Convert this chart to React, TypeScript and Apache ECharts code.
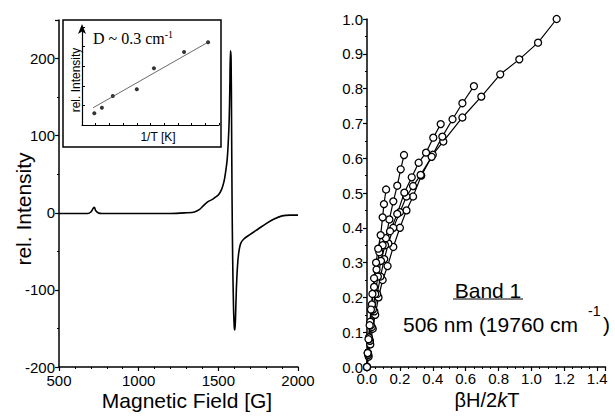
import React, { useEffect, useRef } from "react";
import * as echarts from "echarts";

// Left: EPR spectrum (Magnetic Field [G], rel. Intensity)
const spectrumField = [500, 600, 680, 700, 715, 722, 730, 745, 770, 850, 1000, 1200, 1300, 1350, 1380, 1410, 1440, 1460, 1480, 1500, 1520, 1535, 1545, 1555, 1562, 1568, 1572, 1576, 1580, 1583, 1586, 1590, 1595, 1600, 1604, 1608, 1613, 1620, 1628, 1640, 1660, 1700, 1750, 1800, 1850, 1900, 1950, 2000];
const spectrumIntensity = [-1, -1, -1, 1, 6, 7, 3, 0, -1, -1, -1, -1, 0, 1, 4, 10, 15, 17, 20, 23, 30, 40, 52, 68, 90, 120, 160, 210, 200, 120, 20, -60, -120, -148, -152, -135, -100, -70, -52, -40, -34, -28, -21, -14, -8, -4, -3, -3];

// Inset: rel. Intensity vs 1/T (arbitrary units)
const insetInvT = [0.9, 1.45, 2.25, 4.0, 5.25, 7.45, 9.2];
const insetIntensity = [1.2, 1.75, 2.95, 3.65, 5.8, 7.45, 8.45];
const insetFitX = [0.8, 9.2];
const insetFitY = [1.75, 8.45];

// Right: magnetization curves (βH/2kT, normalized)
const curveAx = [0, 0.01, 0.02, 0.035, 0.05, 0.07, 0.095, 0.125, 0.16, 0.2, 0.24, 0.28, 0.33, 0.4, 0.464, 0.58, 0.695, 0.81, 0.926, 1.04, 1.153];
const curveAy = [0, 0.03, 0.065, 0.11, 0.15, 0.2, 0.25, 0.29, 0.345, 0.4, 0.45, 0.49, 0.55, 0.61, 0.648, 0.717, 0.777, 0.841, 0.884, 0.932, 1.0];
const curveBx = [0, 0.008, 0.018, 0.03, 0.045, 0.062, 0.082, 0.105, 0.13, 0.16, 0.2, 0.24, 0.28, 0.326, 0.393, 0.458, 0.52, 0.58, 0.65];
const curveBy = [0, 0.035, 0.075, 0.115, 0.16, 0.21, 0.26, 0.31, 0.355, 0.4, 0.445, 0.49, 0.52, 0.552, 0.604, 0.662, 0.712, 0.758, 0.807];
const curveCx = [0, 0.006, 0.014, 0.024, 0.036, 0.05, 0.066, 0.085, 0.11, 0.14, 0.184, 0.227, 0.272, 0.314, 0.359, 0.403, 0.448];
const curveCy = [0, 0.04, 0.08, 0.12, 0.165, 0.21, 0.26, 0.305, 0.35, 0.39, 0.44, 0.501, 0.545, 0.587, 0.616, 0.659, 0.698];
const curveDx = [0, 0.005, 0.012, 0.02, 0.03, 0.043, 0.058, 0.075, 0.095, 0.115, 0.136, 0.16, 0.184, 0.205, 0.225];
const curveDy = [0, 0.04, 0.085, 0.13, 0.18, 0.23, 0.28, 0.33, 0.35, 0.37, 0.424, 0.476, 0.521, 0.568, 0.609];
const curveEx = [0, 0.004, 0.009, 0.016, 0.024, 0.033, 0.043, 0.055, 0.068, 0.083, 0.095, 0.103, 0.116];
const curveEy = [0, 0.04, 0.08, 0.12, 0.165, 0.21, 0.255, 0.3, 0.34, 0.379, 0.43, 0.468, 0.51];

const leftYTicks = { min: -200, max: 250, interval: 100 };
const rightXTicks = { min: 0, max: 1.45, interval: 0.2 };
const rightYTicks = { min: 0, max: 1.0, interval: 0.1 };

const SANS = "Liberation Sans, Arial, sans-serif";
const SERIF = "Liberation Serif, Times New Roman, serif";

function zip(a: number[], b: number[]) {
  return a.map((v, i) => [v, b[i]]);
}

export default function App() {
  const ref = useRef<HTMLDivElement>(null);
  useEffect(() => {
    if (!ref.current) return;
    const chart = echarts.init(ref.current, null, { renderer: "svg" });
    const axisBase = {
      axisLine: { show: true, onZero: false, lineStyle: { color: "#000", width: 1.5 } },
      axisTick: { show: true, inside: false, length: 4, lineStyle: { color: "#000", width: 1.2 } },
      minorTick: { show: true, length: 2, lineStyle: { color: "#000", width: 1 } },
      splitLine: { show: false },
      axisLabel: { color: "#000", fontFamily: SANS, fontSize: 15, margin: 4 },
    };
    const markerSeries = (xs: number[], ys: number[]) => ({
      type: "line",
      xAxisIndex: 2,
      yAxisIndex: 2,
      data: zip(xs, ys),
      symbol: "circle",
      symbolSize: 7,
      showAllSymbol: true,
      lineStyle: { color: "#000", width: 1.2 },
      itemStyle: { color: "#fff", borderColor: "#000", borderWidth: 1.3 },
      z: 3,
    });
    chart.setOption({
      animation: false,
      grid: [
        { left: 59, top: 20, width: 239, height: 347 },
        { left: 82, top: 27, width: 137, height: 98 },
        { left: 367, top: 19, width: 238.5, height: 348 },
      ],
      xAxis: [
        {
          ...axisBase,
          gridIndex: 0,
          type: "value",
          min: 500,
          max: 2000,
          interval: 500,
          minorTick: { ...axisBase.minorTick, splitNumber: 5 },
          axisLabel: { ...axisBase.axisLabel, margin: 6, formatter: (v: number) => String(v) },
        },
        {
          gridIndex: 1,
          type: "value",
          min: 0,
          max: 10,
          interval: 1,
          axisLine: { show: true, onZero: false, lineStyle: { color: "#000", width: 1.2 } },
          axisTick: { show: true, inside: true, length: 2, lineStyle: { color: "#000", width: 1 } },
          axisLabel: { show: false },
          splitLine: { show: false },
        },
        {
          ...axisBase,
          gridIndex: 2,
          type: "value",
          min: rightXTicks.min,
          max: rightXTicks.max,
          interval: rightXTicks.interval,
          minorTick: { ...axisBase.minorTick, splitNumber: 4 },
          axisLabel: { ...axisBase.axisLabel, showMaxLabel: false, formatter: (v: number) => v.toFixed(1) },
        },
      ],
      yAxis: [
        {
          ...axisBase,
          gridIndex: 0,
          type: "value",
          min: leftYTicks.min,
          max: leftYTicks.max,
          interval: leftYTicks.interval,
          minorTick: { ...axisBase.minorTick, splitNumber: 2 },
          axisLabel: { ...axisBase.axisLabel, showMaxLabel: false },
        },
        {
          gridIndex: 1,
          type: "value",
          min: 0,
          max: 10,
          interval: 2,
          axisLine: {
            show: true,
            onZero: false,
            symbol: ["none", "arrow"],
            symbolSize: [6, 10],
            symbolOffset: [0, 3],
            lineStyle: { color: "#000", width: 1.2 },
          },
          axisTick: { show: true, inside: true, length: 3, lineStyle: { color: "#000", width: 1 } },
          axisLabel: { show: false },
          splitLine: { show: false },
        },
        {
          ...axisBase,
          gridIndex: 2,
          type: "value",
          min: rightYTicks.min,
          max: rightYTicks.max,
          interval: rightYTicks.interval,
          minorTick: { ...axisBase.minorTick, splitNumber: 2 },
          axisLabel: { ...axisBase.axisLabel, formatter: (v: number) => v.toFixed(1) },
        },
      ],
      series: [
        {
          type: "line",
          xAxisIndex: 0,
          yAxisIndex: 0,
          data: zip(spectrumField, spectrumIntensity),
          showSymbol: false,
          smooth: 0.3,
          lineStyle: { color: "#000", width: 1.6 },
        },
        {
          type: "line",
          xAxisIndex: 1,
          yAxisIndex: 1,
          data: zip(insetFitX, insetFitY),
          showSymbol: false,
          lineStyle: { color: "#444", width: 0.8 },
        },
        {
          type: "scatter",
          xAxisIndex: 1,
          yAxisIndex: 1,
          data: zip(insetInvT, insetIntensity),
          symbol: "circle",
          symbolSize: 4,
          itemStyle: { color: "#000" },
        },
        markerSeries(curveAx, curveAy),
        markerSeries(curveBx, curveBy),
        markerSeries(curveCx, curveCy),
        markerSeries(curveDx, curveDy),
        markerSeries(curveEx, curveEy),
      ],
      graphic: [
        {
          type: "rect",
          shape: { x: 63, y: 20, width: 158, height: 127 },
          style: { fill: "none", stroke: "#000", lineWidth: 1.5 },
          z: 1,
        },
        {
          type: "text",
          x: 23,
          y: 209,
          rotation: Math.PI / 2,
          style: {
            text: "rel. Intensity",
            font: `21px ${SANS}`,
            fill: "#000",
            align: "center",
            verticalAlign: "middle",
          },
        },
        {
          type: "text",
          x: 187,
          y: 400,
          style: {
            text: "Magnetic Field [G]",
            font: `21px ${SANS}`,
            fill: "#000",
            align: "center",
            verticalAlign: "middle",
          },
        },
        {
          type: "text",
          x: 76,
          y: 80,
          rotation: Math.PI / 2,
          style: {
            text: "rel. Intensity",
            font: `12px ${SANS}`,
            fill: "#000",
            align: "center",
            verticalAlign: "middle",
          },
        },
        {
          type: "text",
          x: 158,
          y: 137,
          style: {
            text: "1/T [K]",
            font: `12px ${SANS}`,
            fill: "#000",
            align: "center",
            verticalAlign: "middle",
          },
        },
        {
          type: "text",
          x: 93,
          y: 38,
          style: {
            text: "{a|D ~ 0.3 cm}{s|-1}",
            fill: "#000",
            verticalAlign: "middle",
            rich: {
              a: { font: `16px ${SERIF}`, fill: "#000" },
              s: { font: `10px ${SERIF}`, fill: "#000", verticalAlign: "top", padding: [0, 0, 8, 0] },
            },
          },
        },
        {
          type: "text",
          x: 488,
          y: 290,
          style: {
            text: "Band 1",
            font: `21px ${SANS}`,
            fill: "#000",
            align: "center",
            verticalAlign: "middle",
          },
        },
        {
          type: "line",
          shape: { x1: 453, y1: 299, x2: 523, y2: 299 },
          style: { stroke: "#000", lineWidth: 1.2 },
        },
        {
          type: "text",
          x: 403,
          y: 324,
          style: {
            text: "506 nm (19760 cm",
            font: `21px ${SANS}`,
            fill: "#000",
            align: "left",
            verticalAlign: "middle",
          },
        },
        {
          type: "text",
          x: 588,
          y: 311,
          style: {
            text: "-1",
            font: `14px ${SANS}`,
            fill: "#000",
            align: "left",
            verticalAlign: "middle",
          },
        },
        {
          type: "text",
          x: 603,
          y: 324,
          style: {
            text: ")",
            font: `21px ${SANS}`,
            fill: "#000",
            align: "left",
            verticalAlign: "middle",
          },
        },
        {
          type: "text",
          x: 487,
          y: 400,
          style: {
            text: "{a|\u03b2H/2}{i|k}{a|T}",
            fill: "#000",
            align: "center",
            verticalAlign: "middle",
            rich: {
              a: { font: `20px ${SANS}`, fill: "#000" },
              i: { font: `italic 20px ${SANS}`, fill: "#000" },
            },
          },
        },
      ],
    });
    return () => chart.dispose();
  }, []);
  return (
    <div
      ref={ref}
      style={{ position: "fixed", left: 0, top: 0, width: 615, height: 418, background: "#fff" }}
    />
  );
}
